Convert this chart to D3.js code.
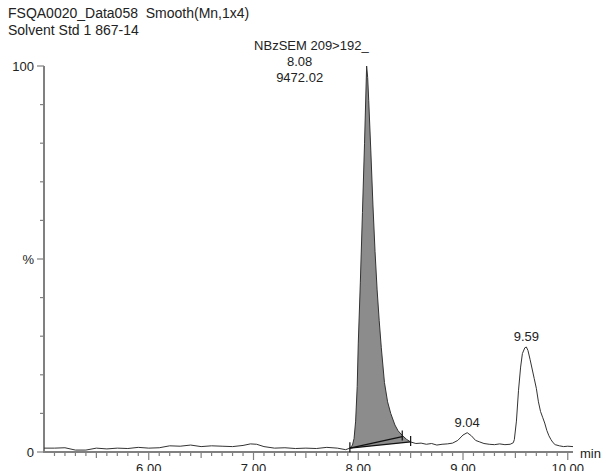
<!DOCTYPE html>
<html>
<head>
<meta charset="utf-8">
<script src="https://cdn.jsdelivr.net/npm/d3@7"></script>
<style>
  body { margin: 0; background: #fff; }
  text { font-family: "Liberation Sans", Arial, sans-serif; fill: #222; white-space: pre; }
</style>
</head>
<body>
<svg width="606" height="471"></svg>
<script>
// chromatogram trace: [time (min), intensity %]
const trace = [
  [5.00, 1.0], [5.10, 1.0], [5.20, 1.1], [5.30, 0.5], [5.40, 0.5], [5.50, 1.0],
  [5.60, 0.8], [5.70, 1.0], [5.80, 0.9], [5.90, 1.2], [6.00, 1.0], [6.10, 1.1],
  [6.20, 1.6], [6.30, 1.5], [6.40, 1.8], [6.50, 1.4], [6.60, 1.6], [6.70, 1.5],
  [6.80, 1.4], [6.90, 1.7], [6.97, 2.1], [7.03, 2.0], [7.10, 1.4], [7.20, 1.0],
  [7.30, 1.1], [7.40, 0.9], [7.50, 1.0], [7.60, 0.9], [7.70, 1.2], [7.80, 1.0],
  [7.88, 0.6], [7.92, 1.0], [7.945, 1.8], [7.96, 3.5], [7.975, 8], [7.99, 17],
  [8.00, 28], [8.02, 44], [8.04, 62], [8.06, 80], [8.073, 93], [8.08, 100],
  [8.09, 97], [8.10, 91], [8.12, 78], [8.14, 64], [8.16, 52], [8.18, 42],
  [8.20, 34], [8.22, 27], [8.25, 18], [8.28, 13], [8.31, 10], [8.35, 7],
  [8.38, 5.5], [8.42, 4.3], [8.46, 3.3], [8.50, 2.6], [8.55, 2.2], [8.60, 2.3],
  [8.65, 2.0], [8.70, 2.2], [8.75, 1.8], [8.80, 2.0], [8.85, 2.1], [8.90, 2.3],
  [8.95, 3.0], [9.00, 4.4], [9.04, 5.0], [9.08, 4.2], [9.12, 3.0], [9.16, 2.6],
  [9.20, 2.2], [9.25, 2.0], [9.30, 1.9], [9.35, 2.1], [9.40, 1.9], [9.45, 2.0],
  [9.48, 2.4], [9.49, 3.2], [9.51, 8], [9.53, 16], [9.55, 22], [9.567, 25.5],
  [9.59, 27], [9.605, 27.2], [9.62, 26.3], [9.64, 24], [9.66, 21.5], [9.68, 19],
  [9.70, 16.5], [9.72, 13], [9.74, 10.5], [9.76, 9], [9.78, 7.5], [9.80, 5.6],
  [9.82, 4.2], [9.84, 3.2], [9.86, 2.4], [9.88, 1.9], [9.92, 1.6], [9.96, 1.4],
  [10.00, 1.5], [10.05, 1.4]
];

// integrated peak: start, inner and end marks (time, baseline %)
const peakStart = [7.92, 1.0];
const peakInner = [8.42, 4.0];
const peakEnd = [8.50, 2.6];

const peakLabels = ['NBzSEM 209>192_', '8.08', '9472.02'];
const smallPeaks = [
  { time: 9.04, value: 5.0, label: '9.04' },
  { time: 9.605, value: 27.2, label: '9.59' }
];
const titleLines = ['FSQA0020_Data058  Smooth(Mn,1x4)', 'Solvent Std 1 867-14'];
const xTicks = [6, 7, 8, 9, 10];

const svg = d3.select('svg');

const xScale = d3.scaleLinear().domain([5.0, 10.05]).range([44, 573]);
const yScale = d3.scaleLinear().domain([0, 100]).range([452, 66]);
const axisColor = '#808080';

// title
svg.selectAll('.title').data(titleLines)
  .enter().append('text')
    .attr('x', 8)
    .attr('y', (d, i) => 18 + i * 17)
    .attr('font-size', 14)
    .text(d => d);

// y axis
const yAxisG = svg.append('g').attr('transform', `translate(${xScale(5.0)},0)`);
yAxisG.append('line')
  .attr('y1', yScale(100)).attr('y2', yScale(0) + 1)
  .attr('stroke', axisColor).attr('stroke-width', 2);
yAxisG.selectAll('.ytick').data(d3.range(0, 101, 10))
  .enter().append('line')
    .attr('x1', d => d % 50 === 0 ? -7 : -4).attr('x2', 0)
    .attr('y1', d => yScale(d)).attr('y2', d => yScale(d))
    .attr('stroke', axisColor).attr('stroke-width', 1.2);
yAxisG.selectAll('.ylab').data([[0, '0'], [50, '%'], [100, '100']])
  .enter().append('text')
    .attr('x', -10)
    .attr('y', d => yScale(d[0]))
    .attr('dy', '0.35em')
    .attr('text-anchor', 'end')
    .attr('font-size', 13)
    .text(d => d[1]);

// x axis
const xAxisG = svg.append('g').attr('transform', `translate(0,${yScale(0)})`);
xAxisG.append('line')
  .attr('x1', xScale(5.0) - 1).attr('x2', xScale(10.05))
  .attr('stroke', axisColor).attr('stroke-width', 2);
xAxisG.selectAll('.xtick').data(d3.range(51, 101).map(v => v / 10))
  .enter().append('line')
    .attr('x1', d => xScale(d)).attr('x2', d => xScale(d))
    .attr('y1', 0)
    .attr('y2', d => Math.abs(d - Math.round(d)) < 1e-6 ? 8 : (Math.abs(d * 2 - Math.round(d * 2)) < 1e-6 ? 6 : 4))
    .attr('stroke', axisColor).attr('stroke-width', 1.2);
xAxisG.selectAll('.xlab').data(xTicks)
  .enter().append('text')
    .attr('x', d => xScale(d))
    .attr('y', 21)
    .attr('text-anchor', 'middle')
    .attr('font-size', 13)
    .text(d => d.toFixed(2));
xAxisG.append('text')
  .attr('x', xScale(10.05) + 7)
  .attr('y', 6)
  .attr('font-size', 13)
  .text('min');

// shaded integrated area
const inPeak = trace.filter(d => d[0] >= peakStart[0] && d[0] <= peakEnd[0]);
const areaPts = inPeak.concat([peakEnd, peakStart]);
svg.append('path')
  .attr('d', d3.line().x(d => xScale(d[0])).y(d => yScale(d[1]))(areaPts) + 'Z')
  .attr('fill', '#8c8c8c');

// trace line
svg.append('path')
  .datum(trace)
  .attr('d', d3.line().x(d => xScale(d[0])).y(d => yScale(d[1])))
  .attr('fill', 'none')
  .attr('stroke', '#333')
  .attr('stroke-width', 1);

// integration baselines and drop marks
[peakInner, peakEnd].forEach(p => {
  svg.append('line')
    .attr('x1', xScale(peakStart[0])).attr('y1', yScale(peakStart[1]))
    .attr('x2', xScale(p[0])).attr('y2', yScale(p[1]))
    .attr('stroke', '#111').attr('stroke-width', 1.2);
});
[peakStart, peakInner, peakEnd].forEach(p => {
  svg.append('line')
    .attr('x1', xScale(p[0])).attr('x2', xScale(p[0]))
    .attr('y1', yScale(p[1]) - 6).attr('y2', yScale(p[1]) + 4)
    .attr('stroke', '#111').attr('stroke-width', 1.2);
});

// main peak labels
svg.selectAll('.plab').data(peakLabels)
  .enter().append('text')
    .attr('x', (d, i) => i === 0 ? xScale(8.08) + 2 : xScale(8.08) - 67)
    .attr('y', (d, i) => 50 + i * 16)
    .attr('text-anchor', (d, i) => i === 0 ? 'end' : 'middle')
    .attr('font-size', 13)
    .text(d => d);

// other peak labels
svg.selectAll('.slab').data(smallPeaks)
  .enter().append('text')
    .attr('x', d => xScale(d.time))
    .attr('y', d => yScale(d.value) - 6)
    .attr('text-anchor', 'middle')
    .attr('font-size', 13)
    .text(d => d.label);
</script>
</body>
</html>
